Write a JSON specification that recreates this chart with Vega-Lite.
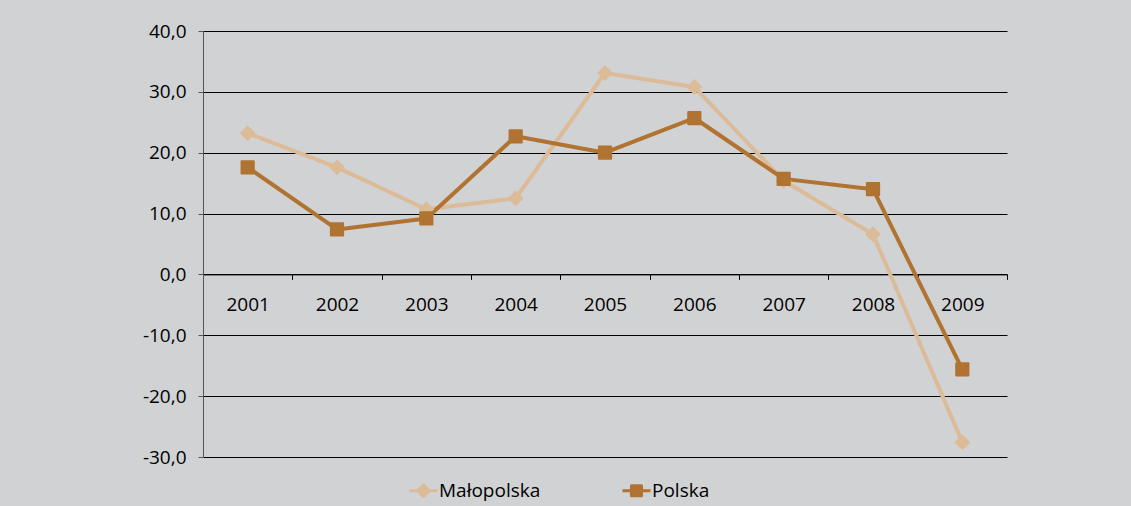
{
  "$schema": "https://vega.github.io/schema/vega-lite/v6.json",
  "width": 804,
  "height": 426,
  "autosize": {"type": "none"},
  "padding": {"left": 203, "top": 31, "right": 124, "bottom": 49},
  "background": "#d1d2d4",
  "config": {
    "view": {"stroke": null},
    "font": "Open Sans",
    "axis": {"labelFont": "Open Sans", "labelFontSize": 19, "labelColor": "#000000"},
    "legend": {"labelFont": "Open Sans", "labelFontSize": 19, "labelColor": "#000000"}
  },
  "data": {
    "values": [
      {"year": "2001", "series": "Małopolska", "value": 23.2},
      {"year": "2002", "series": "Małopolska", "value": 17.6},
      {"year": "2003", "series": "Małopolska", "value": 10.7},
      {"year": "2004", "series": "Małopolska", "value": 12.5},
      {"year": "2005", "series": "Małopolska", "value": 33.1},
      {"year": "2006", "series": "Małopolska", "value": 30.8},
      {"year": "2007", "series": "Małopolska", "value": 15.4},
      {"year": "2008", "series": "Małopolska", "value": 6.6},
      {"year": "2009", "series": "Małopolska", "value": -27.6},
      {"year": "2001", "series": "Polska", "value": 17.6},
      {"year": "2002", "series": "Polska", "value": 7.4},
      {"year": "2003", "series": "Polska", "value": 9.2},
      {"year": "2004", "series": "Polska", "value": 22.7},
      {"year": "2005", "series": "Polska", "value": 20.0},
      {"year": "2006", "series": "Polska", "value": 25.7},
      {"year": "2007", "series": "Polska", "value": 15.7},
      {"year": "2008", "series": "Polska", "value": 14.0},
      {"year": "2009", "series": "Polska", "value": -15.6}
    ]
  },
  "encoding": {
    "x": {
      "field": "year",
      "type": "ordinal",
      "title": null,
      "scale": {"type": "band", "paddingInner": 0, "paddingOuter": 0},
      "axis": {
        "orient": "bottom",
        "offset": -182.6,
        "labelAngle": 0,
        "tickBand": "extent",
        "tickSize": 5,
        "tickColor": "#000000",
        "domainColor": "#000000",
        "domainWidth": 1,
        "labelPadding": 16,
        "grid": false
      }
    },
    "y": {
      "field": "value",
      "type": "quantitative",
      "title": null,
      "scale": {"domain": [-30, 40], "nice": false, "zero": false},
      "axis": {
        "values": [-30, -20, -10, 0, 10, 20, 30, 40],
        "labelExpr": "replace(replace(format(datum.value, '.1f'), '.', ','), '\u2212', '-')",
        "tickSize": 5,
        "tickColor": "#555555",
        "domainColor": "#555555",
        "labelPadding": 12,
        "grid": true,
        "gridColor": "#000000",
        "gridWidth": 1,
        "gridOpacity": 1
      }
    }
  },
  "layer": [
    {
      "mark": {"type": "line", "strokeWidth": 4, "strokeJoin": "round"},
      "encoding": {
        "color": {
          "field": "series",
          "type": "nominal",
          "scale": {"domain": ["Małopolska", "Polska"], "range": ["#dcbb98", "#b07331"]},
          "legend": {
            "title": null,
            "orient": "none",
            "legendX": 205,
            "legendY": 444,
            "direction": "horizontal",
            "symbolSize": 784,
            "labelOffset": 0,
            "columnPadding": 80,
            "padding": 0,
            "encode": {
              "symbols": {
                "update": {
                  "shape": {"signal": "datum.value === 'Polska' ? 'M-1,0L1,0M-0.36,-0.36L0.36,-0.36L0.36,0.36L-0.36,0.36Z' : 'M-1,0L1,0M0,-0.42L0.42,0L0,0.42L-0.42,0Z'"},
                  "fill": {"scale": "color", "field": "value"},
                  "stroke": {"scale": "color", "field": "value"},
                  "strokeWidth": {"value": 3},
                  "strokeJoin": {"value": "round"},
                  "opacity": {"value": 1}
                }
              }
            }
          }
        }
      }
    },
    {
      "transform": [{"filter": "datum.series === 'Małopolska'"}],
      "mark": {"type": "point", "shape": "diamond", "filled": true, "opacity": 1, "size": 190, "color": "#dcbb98", "stroke": "#dcbb98", "strokeWidth": 1.5, "strokeJoin": "round"}
    },
    {
      "transform": [{"filter": "datum.series === 'Polska'"}],
      "mark": {"type": "point", "shape": "square", "filled": true, "opacity": 1, "size": 150, "color": "#b07331", "stroke": "#b07331", "strokeWidth": 2, "strokeJoin": "round"}
    }
  ]
}
